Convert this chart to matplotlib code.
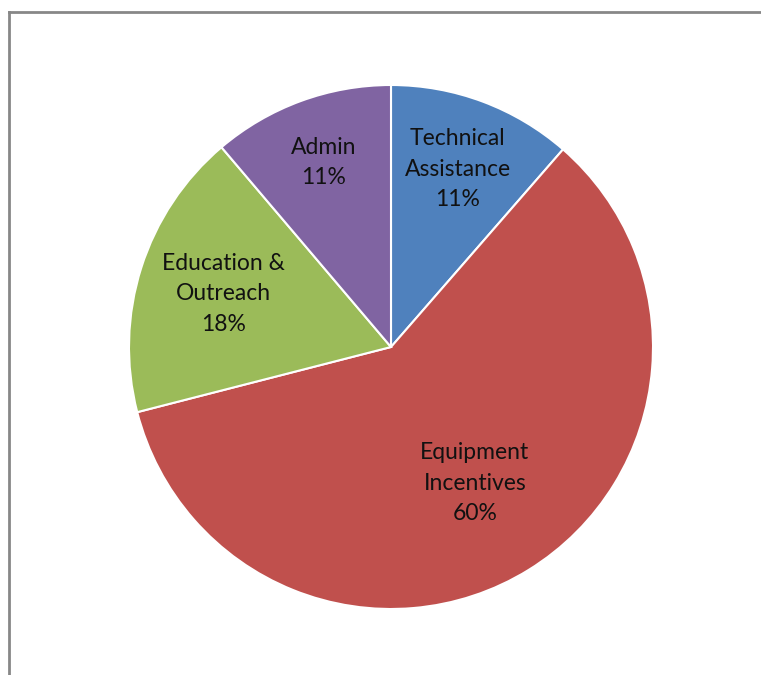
import matplotlib.pyplot as plt
import numpy as np
from matplotlib.lines import Line2D

# data (clockwise from 12 o'clock)
categorias = ["Technical\nAssistance", "Equipment\nIncentives", "Education &\nOutreach", "Admin"]
valores = [11.4, 59.6, 17.8, 11.2]
colores = ["#4F81BD", "#C0504D", "#9BBB59", "#8064A2"]
radio_etiqueta = [0.725, 0.61, 0.67, 0.75]

fig = plt.figure(figsize=(7.61, 6.75), dpi=100, facecolor="white")
ax = fig.add_axes([391 / 761 - 262 / 761, 1 - (347 + 262) / 675, 524 / 761, 524 / 675])

wedges, _ = ax.pie(valores, colors=colores, startangle=90, counterclock=False,
                   wedgeprops=dict(edgecolor="white", linewidth=1.5))
ax.set_xlim(-1, 1)
ax.set_ylim(-1, 1)
ax.set_aspect("auto")

total = sum(valores)
for w, cat, v, r in zip(wedges, categorias, valores, radio_etiqueta):
    ang = np.deg2rad((w.theta1 + w.theta2) / 2)
    ax.text(r * np.cos(ang), r * np.sin(ang), f"{cat}\n{round(v / total * 100):.0f}%",
            ha="center", va="center", fontsize=16.5, family="Lato",
            color="#111111", linespacing=1.55)

# marco gris (solo izquierda y arriba visibles)
x0, y0 = 9 / 761, 1 - 12 / 675
fig.add_artist(Line2D([x0, x0], [0, y0], transform=fig.transFigure, color="#878787", linewidth=2))
fig.add_artist(Line2D([x0, 1], [y0, y0], transform=fig.transFigure, color="#878787", linewidth=2))

fig.savefig("out.png", dpi=100, facecolor="white")
